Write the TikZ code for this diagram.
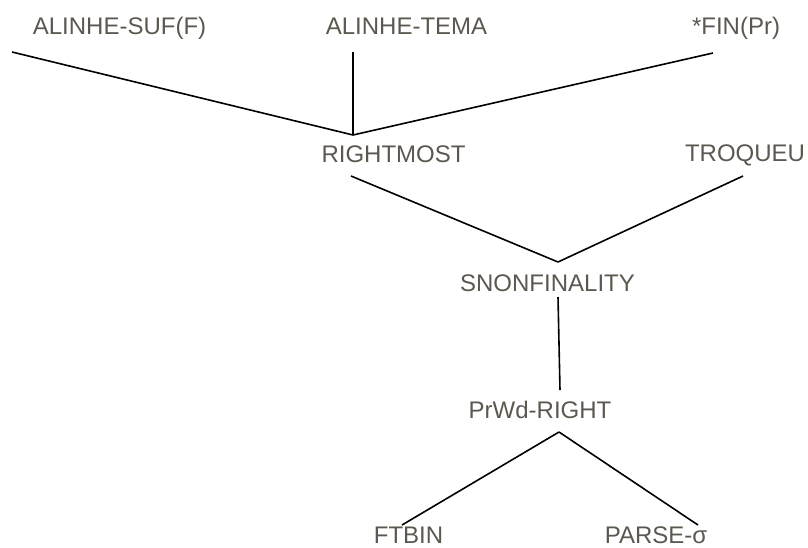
\documentclass[tikz,border=0pt]{standalone}
\usepackage{fontspec}
\setmainfont{Liberation Sans}
\definecolor{txtgray}{RGB}{92,88,80}
\begin{document}
\begin{tikzpicture}[x=1pt,y=-1pt,
  lbl/.style={anchor=base,inner sep=0pt,text=txtgray,font=\fontsize{24}{29}\selectfont},
  edge/.style={draw=black,line width=1.6pt}]
\useasboundingbox (0,0) rectangle (808,547);
% labels
\node[lbl] (suf) at (119.5,34) {ALINHE-SUF(F)};
\node[lbl] (tema) at (406.5,34) {ALINHE-TEMA};
\node[lbl] (fin) at (736,34) {*FIN(Pr)};
\node[lbl] (rm) at (393.5,162) {RIGHTMOST};
\node[lbl] (tro) at (745,161) {TROQUEU};
\node[lbl] (snf) at (547.5,291) {SNONFINALITY};
\node[lbl] (prwd) at (540,418) {PrWd-RIGHT};
\node[lbl] (ftb) at (408.5,543) {FTBIN};
\node[lbl] (parse) at (656,543) {PARSE-σ};
% connector ends
\coordinate (sufE) at (12,52);
\coordinate (temaE) at (353,52);
\coordinate (finE) at (713,53);
\coordinate (rmTop) at (353,135);
\coordinate (rmE) at (351,176);
\coordinate (troE) at (743,176);
\coordinate (snfTop) at (558,262);
\coordinate (snfE) at (558,297);
\coordinate (prTop) at (560,390);
\coordinate (prE) at (559,432);
\coordinate (ftbE) at (402,525);
\coordinate (parseE) at (698,525);
% connectors
\draw[edge] (sufE) -- (rmTop);
\draw[edge] (temaE) -- (rmTop);
\draw[edge] (finE) -- (rmTop);
\draw[edge] (rmE) -- (snfTop);
\draw[edge] (troE) -- (snfTop);
\draw[edge] (snfE) -- (prTop);
\draw[edge] (prE) -- (ftbE);
\draw[edge] (prE) -- (parseE);
\end{tikzpicture}
\end{document}
